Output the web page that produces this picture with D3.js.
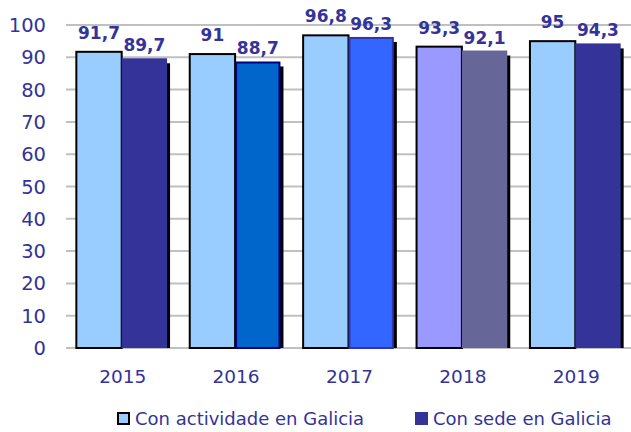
<!DOCTYPE html>
<html lang="gl">
<head>
<meta charset="utf-8" />
<title>Con actividade / Con sede en Galicia</title>
<style>
  body { margin: 0; background: #fff; }
  svg { display: block; font-family: "DejaVu Sans", Verdana, sans-serif; }
</style>
</head>
<body>
<div id="chart"></div>
<script src="https://d3js.org/d3.v7.min.js"></script>
<script>
const years = ["2015", "2016", "2017", "2018", "2019"];
const actividade = [91.7, 91, 96.8, 93.3, 95];
const sede = [89.7, 88.7, 96.3, 92.1, 94.3];
const seriesNames = ["Con actividade en Galicia", "Con sede en Galicia"];
const yTicks = [0, 10, 20, 30, 40, 50, 60, 70, 80, 90, 100];

// colours per year, the original varies them
const fill1 = ["#99ccff", "#99ccff", "#99ccff", "#9999ff", "#99ccff"];
const fill2 = ["#333399", "#0066cc", "#3366ff", "#666699", "#333399"];
const stroke2 = [null, "#000080", "#3333aa", null, null];

const width = 631, height = 432;
const textCol = "#333399";

const svg = d3.select("#chart").append("svg")
    .attr("width", width)
    .attr("height", height);

const x = d3.scaleBand()
    .domain(years)
    .range([65, 632])
    .paddingInner(0.2)
    .paddingOuter(0.1);

const x1 = d3.scaleBand()
    .domain([0, 1])
    .range([0, x.bandwidth()]);

const y = d3.scaleLinear()
    .domain([0, 100])
    .range([348, 25]);

// grid
svg.append("g").selectAll("line")
    .data(yTicks)
    .join("line")
    .attr("x1", 66).attr("x2", width)
    .attr("y1", d => y(d)).attr("y2", d => y(d))
    .attr("stroke", "#c0c0c0")
    .attr("stroke-width", 2);

// y labels
svg.append("g").selectAll("text")
    .data(yTicks)
    .join("text")
    .attr("x", 46)
    .attr("y", d => y(d))
    .attr("dy", "0.36em")
    .attr("text-anchor", "end")
    .attr("font-size", 19.5)
    .attr("fill", textCol)
    .text(d => d);

const rows = years.map((yr, i) => ({ yr, i, a: actividade[i], s: sede[i] }));

const g = svg.append("g").selectAll("g")
    .data(rows)
    .join("g")
    .attr("transform", d => `translate(${x(d.yr)},0)`);

const bw = x1.bandwidth();

// shadow of the second bar
g.append("rect")
    .attr("x", x1(1) + 3)
    .attr("y", d => y(d.s) + 5)
    .attr("width", bw)
    .attr("height", d => y(0) - y(d.s) - 5)
    .attr("fill", "#000");

g.append("rect")
    .attr("x", x1(0))
    .attr("y", d => y(d.a))
    .attr("width", bw)
    .attr("height", d => y(0) - y(d.a))
    .attr("fill", d => fill1[d.i])
    .attr("stroke", "#000")
    .attr("stroke-width", 2);

g.append("rect")
    .attr("x", d => x1(1) + (stroke2[d.i] ? 1 : 0))
    .attr("y", d => y(d.s) + (stroke2[d.i] ? 1 : 0))
    .attr("width", d => bw - (stroke2[d.i] ? 2 : 0))
    .attr("height", d => y(0) - y(d.s) - (stroke2[d.i] ? 1 : 0))
    .attr("fill", d => fill2[d.i])
    .attr("stroke", d => stroke2[d.i] || "none")
    .attr("stroke-width", 2);

const fmt = v => String(v).replace(".", ",");

g.append("text")
    .attr("x", x1(0) + bw / 2)
    .attr("y", d => y(d.a) - 13)
    .attr("text-anchor", "middle")
    .attr("font-size", 17)
    .attr("font-weight", "bold")
    .attr("fill", textCol)
    .text(d => fmt(d.a));

g.append("text")
    .attr("x", x1(1) + bw / 2)
    .attr("y", d => y(d.s) - 7)
    .attr("text-anchor", "middle")
    .attr("font-size", 17)
    .attr("font-weight", "bold")
    .attr("fill", textCol)
    .text(d => fmt(d.s));

// x labels
svg.append("g").selectAll("text")
    .data(years)
    .join("text")
    .attr("x", d => x(d) + x.bandwidth() / 2 + 1)
    .attr("y", 383)
    .attr("text-anchor", "middle")
    .attr("font-size", 18.5)
    .attr("fill", textCol)
    .text(d => d);

// legend
const legX = [117, 415];
const leg = svg.append("g").selectAll("g")
    .data(seriesNames)
    .join("g")
    .attr("transform", (d, i) => `translate(${legX[i]},412)`);

leg.append("rect")
    .attr("x", (d, i) => i ? 0 : 1)
    .attr("y", (d, i) => i ? 0 : 1)
    .attr("width", (d, i) => i ? 13 : 11)
    .attr("height", (d, i) => i ? 13 : 11)
    .attr("fill", (d, i) => i ? "#333399" : "#99ccff")
    .attr("stroke", (d, i) => i ? "none" : "#000")
    .attr("stroke-width", 2);

leg.append("text")
    .attr("x", 18)
    .attr("y", 13)
    .attr("font-size", 18)
    .attr("fill", textCol)
    .text(d => d);
</script>
</body>
</html>
